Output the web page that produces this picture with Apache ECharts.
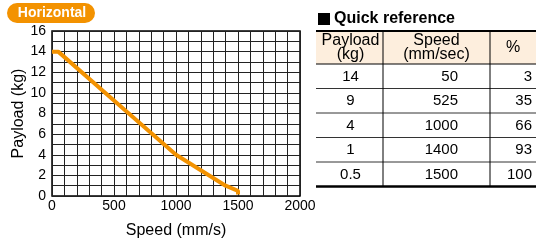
<!DOCTYPE html>
<html>
<head>
<meta charset="utf-8">
<script src="https://cdn.jsdelivr.net/npm/echarts@6/dist/echarts.min.js"></script>
<style>
  html, body { margin: 0; padding: 0; background: #fff; }
  #chart { width: 536px; height: 244px; }
</style>
</head>
<body>
<div id="chart"></div>
<script>
// curve points
const curveSpeed = [0, 50, 525, 1000, 1400, 1500, 1500];
const curvePayload = [14, 14, 9, 4, 1, 0.5, 0.15];

// quick reference table
const headers = [['Payload', '(kg)'], ['Speed', '(mm/sec)'], ['%']];
const payloads = ['14', '9', '4', '1', '0.5'];
const speeds = ['50', '525', '1000', '1400', '1500'];
const percents = ['3', '35', '66', '93', '100'];

const ORANGE = '#f39200';
const FONT = '"Liberation Sans", Arial, sans-serif';

const chart = echarts.init(document.getElementById('chart'));

// table geometry
const tLeft = 316, tRight = 536, col1 = 383, col2 = 490;
const tTop = 31, headBottom = 64, rowH = 24.5;
const tBottom = headBottom + rowH * payloads.length;

const g = [];
// badge
g.push({
  type: 'rect', shape: { x: 7, y: 3, width: 88, height: 20, r: 10 },
  style: { fill: ORANGE }
});
g.push({
  type: 'text', x: 52, y: 13,
  style: { text: 'Horizontal', fill: '#fff', font: 'bold 14px ' + FONT, align: 'center', verticalAlign: 'middle' }
});
// table title
g.push({ type: 'rect', shape: { x: 318, y: 13, width: 12, height: 12 }, style: { fill: '#000' } });
g.push({
  type: 'text', x: 334, y: 19,
  style: { text: 'Quick reference', fill: '#000', font: 'bold 16px ' + FONT, verticalAlign: 'middle' }
});
// header background
g.push({ type: 'rect', shape: { x: tLeft, y: tTop, width: tRight - tLeft, height: headBottom - tTop }, style: { fill: '#fdeedd' } });
// header texts
const colCenters = [(tLeft + col1) / 2 + 1, (col1 + col2) / 2, (col2 + tRight) / 2];
const headFont = '16px ' + FONT;
headers.forEach((h, i) => {
  if (h.length === 2) {
    g.push({ type: 'text', x: colCenters[i], y: 41, style: { text: h[0], fill: '#000', font: headFont, align: 'center', verticalAlign: 'middle' } });
    g.push({ type: 'text', x: colCenters[i], y: 55, style: { text: h[1], fill: '#000', font: headFont, align: 'center', verticalAlign: 'middle' } });
  } else {
    g.push({ type: 'text', x: colCenters[i], y: 48, style: { text: h[0], fill: '#000', font: headFont, align: 'center', verticalAlign: 'middle' } });
  }
});
// body rows
const cellFont = '15px ' + FONT;
payloads.forEach((p, i) => {
  const cy = headBottom + rowH * (i + 0.5) + 0.5;
  g.push({ type: 'text', x: colCenters[0], y: cy, style: { text: p, fill: '#000', font: cellFont, align: 'center', verticalAlign: 'middle' } });
  g.push({ type: 'text', x: 458, y: cy, style: { text: speeds[i], fill: '#000', font: cellFont, align: 'right', verticalAlign: 'middle' } });
  g.push({ type: 'text', x: 532, y: cy, style: { text: percents[i], fill: '#000', font: cellFont, align: 'right', verticalAlign: 'middle' } });
  if (i < payloads.length - 1) {
    const ly = headBottom + rowH * (i + 1);
    g.push({ type: 'line', shape: { x1: tLeft, y1: ly, x2: tRight, y2: ly }, style: { stroke: '#333', lineWidth: 1 } });
  }
});
// table rules
g.push({ type: 'line', shape: { x1: tLeft, y1: tTop, x2: tRight, y2: tTop }, style: { stroke: '#000', lineWidth: 2 } });
g.push({ type: 'line', shape: { x1: tLeft, y1: headBottom, x2: tRight, y2: headBottom }, style: { stroke: '#000', lineWidth: 1 } });
g.push({ type: 'line', shape: { x1: tLeft, y1: tBottom, x2: tRight, y2: tBottom }, style: { stroke: '#000', lineWidth: 2.5 } });
[col1, col2].forEach(x => {
  g.push({ type: 'line', shape: { x1: x, y1: tTop, x2: x, y2: tBottom }, style: { stroke: '#000', lineWidth: 1 } });
});

const gridLine = { show: true, lineStyle: { color: '#222', width: 1 } };

chart.setOption({
  animation: false,
  textStyle: { fontFamily: FONT },
  grid: { left: 52, top: 31, width: 248, height: 173, show: true, borderColor: '#000', borderWidth: 1.5 },
  xAxis: {
    type: 'value', min: 0, max: 2000, interval: 500,
    name: 'Speed (mm/s)', nameLocation: 'middle', nameGap: 27,
    nameTextStyle: { color: '#000', fontSize: 16 },
    axisLine: { show: false }, axisTick: { show: false },
    axisLabel: { color: '#000', fontSize: 14, margin: 3, formatter: v => String(v) },
    splitLine: gridLine,
    minorTick: { show: false, splitNumber: 5 },
    minorSplitLine: gridLine
  },
  yAxis: {
    type: 'value', min: 0, max: 16, interval: 2,
    name: 'Payload (kg)', nameLocation: 'middle', nameGap: 25,
    nameTextStyle: { color: '#000', fontSize: 16 },
    axisLine: { show: false }, axisTick: { show: false },
    axisLabel: { color: '#000', fontSize: 14, margin: 6 },
    splitLine: gridLine,
    minorTick: { show: false, splitNumber: 2 },
    minorSplitLine: gridLine
  },
  graphic: g,
  series: [{
    type: 'line',
    data: curveSpeed.map((s, i) => [s, curvePayload[i]]),
    showSymbol: false,
    lineStyle: { color: ORANGE, width: 4, cap: 'butt' },
    clip: false
  }]
});
</script>
</body>
</html>
